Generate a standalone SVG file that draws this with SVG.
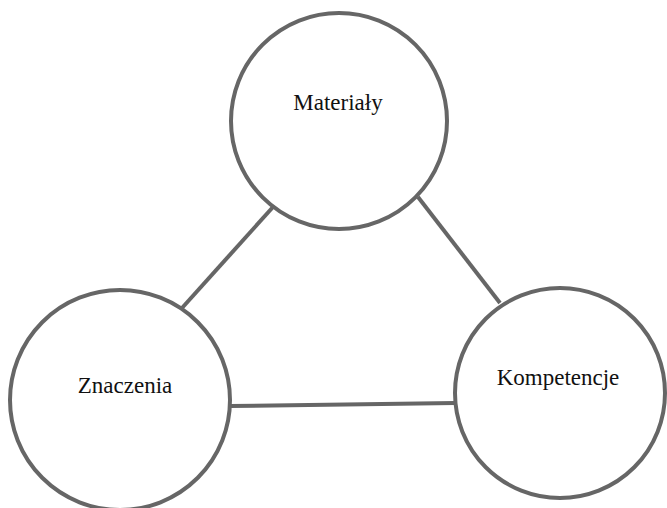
<svg xmlns="http://www.w3.org/2000/svg" width="667" height="508" viewBox="0 0 667 508">
<style>
.node circle{fill:#fff;stroke:#666;stroke-width:4}
.conn line{stroke:#666;stroke-width:4}
text{font-family:"Liberation Serif","DejaVu Serif",serif;font-size:23px;fill:#111;text-anchor:middle}
</style>
<rect width="667" height="508" fill="#fff"/>
<g id="connectors" class="conn">
<line x1="273" y1="207" x2="182" y2="308"/>
<line x1="418" y1="197" x2="500" y2="303"/>
<line x1="230" y1="406" x2="455" y2="403"/>
</g>
<g id="materialy" class="node">
<circle cx="339" cy="121" r="108"/>
<text x="338" y="110">Materiały</text>
</g>
<g id="znaczenia" class="node">
<circle cx="120" cy="400" r="110"/>
<text x="125" y="393">Znaczenia</text>
</g>
<g id="kompetencje" class="node">
<circle cx="560" cy="393" r="105"/>
<text x="558" y="385">Kompetencje</text>
</g>
</svg>
